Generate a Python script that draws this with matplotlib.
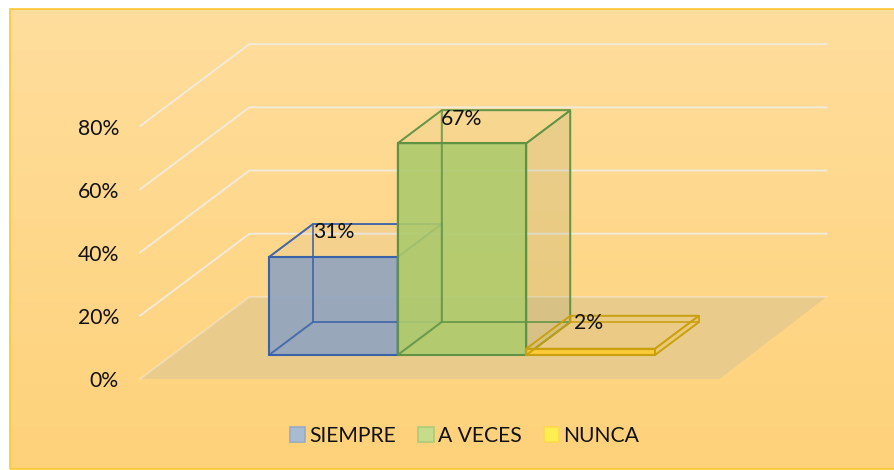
import numpy as np
import matplotlib
matplotlib.use("Agg")
import matplotlib.pyplot as plt
from matplotlib.patches import Polygon, Patch, Rectangle
from matplotlib.colors import LinearSegmentedColormap

categories = ["SIEMPRE", "A VECES", "NUNCA"]
values = [31, 67, 2]
labels = ["31%", "67%", "2%"]
ticks = [0, 20, 40, 60, 80]
tick_labels = ["0%", "20%", "40%", "60%", "80%"]

face_front = ["#8FA3BF", "#ADCA6C", "#FFC92E"]
face_side = ["#4472C4", "#7F8F60", "#FFC000"]
edge_cols = ["#3A62A8", "#5F9343", "#C9A00F"]
leg_face = ["#A8BBD0", "#C5DC8A", "#FFEE50"]
leg_edge = ["#96AAC8", "#AECB78", "#FFD84F"]

plt.rcParams["font.family"] = ["Lato", "DejaVu Sans"]
FS = 15.2

fig = plt.figure(figsize=(8.95, 4.7), dpi=100, facecolor="white")
ax = fig.add_axes([0, 0, 1, 1])
ax.set_xlim(-269 / 128.67, (895 - 269) / 128.67)
ax.set_ylim((355 - 470) / 3.16, 355 / 3.16)
ax.axis("off")

DX = 44 / 128.67   # horizontal shift per unit of depth
DY = 33 / 3.16     # vertical shift per unit of depth
D_FRONT, D_BACK = -0.727, 1.76
X_L, X_R = -0.754, 3.73
TXT_DY = -2.5 / 3.16


def P(x, v, d):
    return (x + d * DX, v + d * DY)


# chart-area background with vertical gradient
cmap = LinearSegmentedColormap.from_list("bg", ["#FFD27A", "#FEDD9C"])
x0, x1 = ax.get_xlim()
y0, y1 = ax.get_ylim()
bx0, bx1 = x0 + 9.5 / 128.67, x1 + 2
by0, by1 = y0 + 1 / 3.16, y1 - 9.5 / 3.16
ax.imshow(np.linspace(1, 0, 256).reshape(-1, 1), cmap=cmap, aspect="auto",
          extent=(bx0, bx1, by0, by1), zorder=0, origin="upper")
ax.set_xlim(x0, x1)
ax.set_ylim(y0, y1)
ax.add_patch(Rectangle((bx0, by0), bx1 - bx0, by1 - by0, fill=False,
                       ec="#FFC62E", lw=1.2, zorder=0.5))

# floor
ax.add_patch(Polygon([P(X_L, 0, D_FRONT), P(X_L, 0, D_BACK), P(X_R, 0, D_BACK), P(X_R + 0.02, 0, D_FRONT)],
                     fc="#E9CB8C", ec="none", zorder=1))

# gridlines on side and back wall
for t, lab in zip(ticks, tick_labels):
    a, b, c = P(X_L, t, D_FRONT), P(X_L, t, D_BACK), P(X_R, t, D_BACK)
    ax.plot([a[0], b[0], c[0]], [a[1], b[1], c[1]], color="#F3EAD8", lw=1.4, zorder=1.5,
            solid_joinstyle="miter", alpha=0.5 if t == 0 else 1)
    ax.text(a[0] - 21 / 128.67, a[1] + TXT_DY, lab, ha="right", va="center", fontsize=FS,
            color="#111111", zorder=5)

# bars
z = 2
for i, val in enumerate(values):
    L, R = float(i), float(i + 1)
    fc, ec = face_front[i], edge_cols[i]
    front = [P(L, 0, 0), P(R, 0, 0), P(R, val, 0), P(L, val, 0)]
    back = [P(L, 0, 1), P(R, 0, 1), P(R, val, 1), P(L, val, 1)]
    bottom = [P(L, 0, 0), P(R, 0, 0), P(R, 0, 1), P(L, 0, 1)]
    top = [P(L, val, 0), P(R, val, 0), P(R, val, 1), P(L, val, 1)]
    right = [P(R, 0, 0), P(R, 0, 1), P(R, val, 1), P(R, val, 0)]
    left = [P(L, 0, 0), P(L, 0, 1), P(L, val, 1), P(L, val, 0)]
    for poly, a in [(top, 0.05), (right, 0.16)]:
        ax.add_patch(Polygon(poly, fc=face_side[i], alpha=a, ec="none", zorder=z + 0.1))
    ax.add_patch(Polygon(front, fc=fc, alpha=0.9, ec="none", zorder=z + 0.2))
    for poly in (back, left, bottom):
        ax.add_patch(Polygon(poly, fill=False, ec=ec, lw=1.3, alpha=0.6, zorder=z + 0.3))
    for poly in (top, right):
        ax.add_patch(Polygon(poly, fill=False, ec=ec, lw=1.3, alpha=0.9, zorder=z + 0.4))
    ax.add_patch(Polygon(front, fill=False, ec=ec, lw=1.5, zorder=z + 0.5))
    z += 1

# data labels sit at the back-left top corner of each bar
label_dx = [0, -1, 4]
label_dy = [-8, -9, -7]
for i, (val, lab) in enumerate(zip(values, labels)):
    tx, ty = P(i, val, 1)
    ax.text(tx + label_dx[i] / 128.67, ty + label_dy[i] / 3.16,
            lab, ha="left", va="center", fontsize=FS, color="#111111", zorder=8)

handles = [Patch(fc=f, ec=e, lw=1.2, label=c) for f, e, c in zip(leg_face, leg_edge, categories)]
leg = ax.legend(handles=handles, ncol=3, frameon=False, fontsize=FS, loc="center",
                bbox_to_anchor=(464.5 / 895, 1 - 436 / 470), bbox_transform=fig.transFigure,
                handlelength=0.72, handleheight=0.72, handletextpad=0.2, columnspacing=1.05,
                labelcolor="#111111")
leg.set_zorder(9)

fig.savefig("out.png", dpi=100)
